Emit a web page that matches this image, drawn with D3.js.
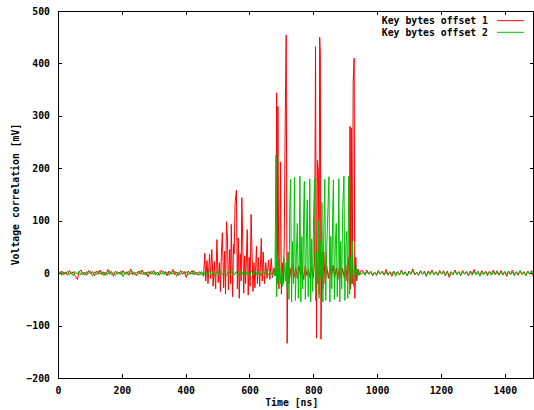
<!DOCTYPE html>
<html>
<head>
<meta charset="utf-8">
<script src="https://cdn.jsdelivr.net/npm/d3@7"></script>
<style>
  body { margin: 0; background: #fff; }
  #chart text { font-family: "DejaVu Sans Mono", monospace; font-weight: bold; font-size: 9.8px; fill: #000; }
</style>
</head>
<body>
<div id="chart"></div>
<script>
// data: [time ns, voltage mV]
const seriesNames = ["Key bytes offset 1", "Key bytes offset 2"];
const yTicks = [-200, -100, 0, 100, 200, 300, 400, 500];
const xTicks = [0, 200, 400, 600, 800, 1000, 1200, 1400];

const offset1 = [
  [0,3],[6,-2],[12,4],[18,-3],[24,2],[30,-4],[36,5],[42,-2],[48,3],[54,-5],[61,-12],[66,2],[72,6],[78,-3],[84,2],[90,-4],
  [96,5],[102,-1],[108,3],[114,-5],[120,4],[126,-2],[132,6],[138,-3],[144,2],[150,-4],[156,7],[162,-2],[168,3],[174,-6],
  [180,4],[186,-2],[192,2],[198,-3],[204,5],[210,-2],[216,3],[222,-4],[228,8],[234,-3],[240,2],[246,-5],[252,4],[258,-2],
  [264,6],[270,-3],[276,2],[282,-7],[288,3],[294,-2],[300,5],[306,-3],[312,2],[318,-4],[324,6],[330,-2],[336,3],[342,-5],
  [348,4],[354,-2],[360,7],[366,-3],[372,2],[378,-4],[384,5],[390,-2],[396,3],[402,-8],[408,4],[414,-2],[420,5],[426,-3],
  [432,2],[438,-4],[444,3],[450,-2],
  [456,-6],[460,38],[463,-15],[467,24],[470,-20],[475,36],[478,-10],[482,45],[486,-25],[490,22],[494,-30],[498,64],[502,-18],
  [506,20],[509,-35],[512,40],[515,77],[519,-28],[522,42],[525,-40],[528,98],[531,68],[534,-32],[538,45],[541,-20],[543,93],
  [547,-45],[550,55],[552,37],[555,135],[559,158],[562,-30],[565,67],[568,-48],[571,37],[574,-15],[576,144],[579,58],
  [582,-38],[585,33],[588,-20],[593,83],[596,-42],[599,30],[602,-25],[605,112],[608,40],[611,-35],[614,20],[617,-28],
  [622,51],[625,-20],[628,30],[632,-25],[637,66],[640,-15],[643,40],[647,-20],[651,20],[655,-10],[660,25],[664,-12],
  [668,28],[672,-8],[677,10],[680,-5],
  [683,10],[685,344],[687,-20],[689,318],[692,-30],[695,30],[697,212],[700,-40],[703,20],[706,-20],[709,60],[712,292],
  [715,454],[718,-134],[721,40],[724,-20],[727,10],[731,-10],[735,15],[740,-8],[745,12],[750,-10],[755,14],[760,-6],
  [765,10],[770,-12],[775,15],[780,-5],[785,8],[790,-10],[795,12],[800,-8],[804,20],[807,432],[810,-124],[813,215],
  [816,193],[818,-40],[820,450],[822,419],[824,-126],[827,40],[830,-30],[833,40],[837,-20],[842,15],[847,-10],[852,12],
  [857,-8],[862,15],[867,-10],[872,10],[877,-12],[882,14],[887,-8],[892,10],[897,-10],[902,15],[906,-15],[910,30],
  [913,-20],[915,280],[917,-30],[919,277],[922,-20],[925,365],[928,410],[930,-48],[933,30],[936,-15],[940,8],[944,-4],[950,5],
  [956,4],[962,-3],[968,6],[974,-2],[980,3],[986,-5],[992,2],[998,-3],[1004,5],[1010,-2],[1016,3],[1022,-4],[1028,7],
  [1034,-2],[1040,2],[1046,-6],[1052,4],[1058,-2],[1064,3],[1070,-4],[1076,6],[1082,-3],[1088,2],[1094,-5],[1100,4],
  [1106,-2],[1112,8],[1118,-3],[1124,2],[1130,-4],[1136,5],[1142,-2],[1148,3],[1154,-6],[1160,4],[1166,-2],[1172,6],
  [1178,-3],[1184,2],[1190,-4],[1196,5],[1202,-2],[1208,3],[1214,-5],[1220,4],[1226,-8],[1232,2],[1238,-3],[1244,6],
  [1250,-2],[1256,3],[1262,-4],[1268,5],[1274,-2],[1280,2],[1286,-5],[1292,4],[1298,-2],[1304,7],[1310,-3],[1316,2],
  [1322,-4],[1328,5],[1334,-2],[1340,3],[1346,-5],[1352,4],[1358,-2],[1364,6],[1370,-3],[1376,2],[1382,-4],[1388,5],
  [1394,-2],[1400,3],[1406,-6],[1412,4],[1418,-2],[1424,6],[1430,-3],[1436,2],[1442,-4],[1448,5],[1454,-2],[1460,3],
  [1466,-5],[1472,4],[1478,-2],[1484,5],[1490,-8]
];

const offset2 = [
  [0,-2],[6,3],[12,-4],[18,2],[24,-1],[30,4],[36,-3],[42,1],[48,-5],[54,3],[60,-2],[66,4],[72,-3],[78,2],[84,-4],[90,3],
  [96,-1],[102,4],[108,-6],[114,2],[120,-3],[126,4],[132,-2],[138,3],[144,-5],[150,2],[156,-2],[162,5],[168,-3],[174,1],
  [180,-4],[186,3],[192,-2],[198,4],[204,-7],[210,2],[216,-3],[222,4],[228,-2],[234,3],[240,-4],[246,2],[252,-1],[258,5],
  [264,-3],[270,2],[276,-4],[282,3],[288,-2],[294,4],[300,-3],[306,2],[312,-5],[318,3],[324,-2],[330,4],[336,-3],[342,2],
  [348,-4],[354,3],[360,-2],[366,4],[372,-6],[378,2],[384,-3],[390,4],[396,-2],[402,3],[408,-4],[414,2],[420,-2],[426,5],
  [432,-3],[438,2],[444,-4],[450,3],[456,-5],[462,4],[468,-3],[474,5],[480,-4],[486,3],[492,-6],[498,4],[504,-3],[510,5],
  [516,-4],[522,3],[528,-5],[534,4],[540,-3],[546,6],[552,-4],[558,3],[564,-5],[570,4],[576,-3],[582,5],[588,-4],[594,3],
  [600,-6],[606,4],[612,-3],[618,5],[624,-4],[630,3],[636,-5],[642,4],[648,-3],[654,5],[660,-4],[666,3],[672,-5],
  [677,3],[680,-5],[683,225],[685,-45],[688,35],[691,-15],[694,25],[697,-20],[700,12],[704,-25],[708,30],[712,-15],
  [715,20],[718,-30],[721,40],[724,-50],[726,117],[729,179],[732,-55],[735,60],[738,-20],[741,183],[744,-52],[747,40],
  [750,95],[753,-48],[756,20],[758,185],[761,-55],[764,70],[767,-30],[770,120],[772,175],[775,-50],[778,50],[781,140],
  [784,-45],[787,30],[789,180],[792,-55],[795,65],[798,-35],[801,110],[804,180],[807,-52],[810,40],[813,-20],[816,100],
  [818,-48],[821,60],[824,-10],[827,135],[830,-55],[833,80],[836,179],[839,-52],[842,45],[845,105],[849,184],[852,-55],
  [855,70],[858,-30],[861,125],[863,178],[866,-50],[869,55],[872,95],[875,-45],[878,30],[880,180],[883,-55],[886,60],
  [889,-30],[892,120],[896,185],[899,-52],[902,50],[905,80],[908,-48],[911,185],[914,-40],[917,30],[920,-20],[923,60],
  [926,-25],[929,15],[932,-10],[936,8],[940,-4],[944,3],
  [950,-3],[956,2],[962,-4],[968,3],[974,-2],[980,4],[986,-3],[992,2],[998,-5],[1004,3],[1010,-2],[1016,4],[1022,-3],
  [1028,2],[1034,-4],[1040,3],[1046,-1],[1052,4],[1058,-6],[1064,2],[1070,-3],[1076,4],[1082,-2],[1088,3],[1094,-5],
  [1100,2],[1106,-2],[1112,5],[1118,-3],[1124,1],[1130,-4],[1136,3],[1142,-2],[1148,4],[1154,-6],[1160,2],[1166,-3],
  [1172,4],[1178,-2],[1184,3],[1190,-4],[1196,2],[1202,-1],[1208,5],[1214,-3],[1220,2],[1226,-4],[1232,3],[1238,-2],
  [1244,4],[1250,-3],[1256,2],[1262,-5],[1268,3],[1274,-2],[1280,4],[1286,-3],[1292,2],[1298,-4],[1304,3],[1310,-2],
  [1316,4],[1322,-6],[1328,2],[1334,-3],[1340,4],[1346,-2],[1352,3],[1358,-4],[1364,2],[1370,-2],[1376,5],[1382,-3],
  [1388,2],[1394,-4],[1400,3],[1406,-2],[1412,4],[1418,-3],[1424,2],[1430,-5],[1436,3],[1442,-2],[1448,4],[1454,-3],
  [1460,2],[1466,-4],[1472,3],[1478,-2],[1484,4],[1490,-3]
];

const colors = ["#ff0000", "#00c000"];

// sizing like a gnuplot png
const margin = {left: 58, top: 11, right: 0.5, bottom: 32},
    width = 534 - margin.left - margin.right,
    height = 410 - margin.top - margin.bottom;

const svg = d3.select("#chart").append("svg")
        .attr("width", 534)
        .attr("height", 410)
    .append("g")
        .attr("transform", `translate(${margin.left}, ${margin.top})`);

const xScale = d3.scaleLinear().domain([0, 1490]).range([0, width]);
const yScale = d3.scaleLinear().domain([-200, 500]).range([height, 0]);
const fmt = d3.format("d");

svg.append("clipPath").attr("id", "plotClip")
    .append("rect").attr("width", width).attr("height", height);

// ticks point inward on all four sides (mirror)
const tickLen = 4;
svg.append("g")
    .call(d3.axisLeft(yScale).tickValues(yTicks).tickFormat(fmt).tickSizeInner(-tickLen).tickSizeOuter(0).tickPadding(8))
    .call(g => g.select(".domain").remove());
svg.append("g")
    .attr("transform", `translate(${width}, 0)`)
    .call(d3.axisRight(yScale).tickValues(yTicks).tickSizeInner(-tickLen).tickSizeOuter(0).tickFormat(""))
    .call(g => g.select(".domain").remove());
svg.append("g")
    .attr("transform", `translate(0, ${height})`)
    .call(d3.axisBottom(xScale).tickValues(xTicks).tickFormat(fmt).tickSizeInner(-tickLen).tickSizeOuter(0).tickPadding(9))
    .call(g => g.select(".domain").remove());
svg.append("g")
    .call(d3.axisTop(xScale).tickValues(xTicks).tickSizeInner(-tickLen).tickSizeOuter(0).tickFormat(""))
    .call(g => g.select(".domain").remove());
svg.selectAll(".tick line").attr("stroke", "#000").attr("shape-rendering", "crispEdges");
svg.selectAll(".tick text").attr("font-size", null).attr("font-family", null);

const line = d3.line()
    .x(d => xScale(d[0]))
    .y(d => yScale(d[1]));

const plot = svg.append("g").attr("clip-path", "url(#plotClip)");
[offset1, offset2].forEach((s, i) => {
    plot.append("path")
        .datum(s)
        .attr("fill", "none")
        .attr("stroke", colors[i])
        .attr("stroke-width", 1)
        .attr("d", line);
});

svg.append("rect")
    .attr("width", width)
    .attr("height", height)
    .attr("fill", "none")
    .attr("stroke", "#000")
    .attr("shape-rendering", "crispEdges");

// legend, top right
seriesNames.forEach((name, i) => {
    const y = 9.7 + i * 11.6;
    svg.append("text")
        .attr("x", 488 - margin.left)
        .attr("y", y)
        .attr("dy", "0.35em")
        .attr("text-anchor", "end")
        .text(name);
    svg.append("line")
        .attr("x1", 497 - margin.left)
        .attr("x2", 524 - margin.left)
        .attr("y1", y)
        .attr("y2", y)
        .attr("stroke", colors[i]);
});

svg.append("text")
    .attr("x", width / 2 - 4)
    .attr("y", height + 28)
    .attr("text-anchor", "middle")
    .text("Time [ns]");

svg.append("text")
    .attr("transform", `translate(${16 - margin.left}, ${height / 2}) rotate(-90)`)
    .attr("text-anchor", "middle")
    .attr("dy", "0.35em")
    .text("Voltage correlation [mV]");
</script>
</body>
</html>
